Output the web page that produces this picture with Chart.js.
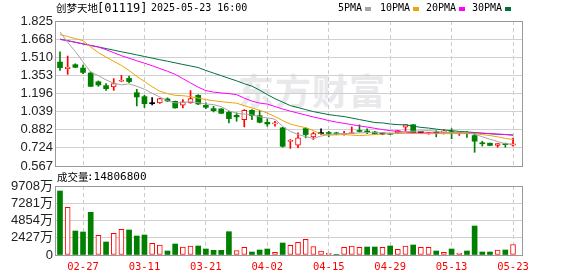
<!DOCTYPE html>
<html><head><meta charset="utf-8">
<script src="https://cdn.jsdelivr.net/npm/chart.js@4/dist/chart.umd.min.js"></script>
<style>
html,body{margin:0;padding:0;background:#fff;}
#wrap{position:relative;width:578px;height:276px;overflow:hidden;background:#fff;}
canvas{position:absolute;left:0;}
.t{position:absolute;white-space:pre;color:#000;line-height:12px;}
.cjk{font-family:'Noto Sans CJK SC',sans-serif;}
.mono{font-family:'DejaVu Sans Mono',monospace;}
.sq{position:absolute;width:6px;height:4px;}
#wm{left:238px;top:68px;font-family:'Noto Sans CJK SC',sans-serif;font-weight:700;font-size:36px;line-height:42px;color:#e9e9ec;letter-spacing:1px;}
</style></head><body>
<div id="wrap">
  <div id="wm" class="t">东方财富</div>
  <canvas id="pc" width="578" height="178" style="top:0"></canvas>
  <canvas id="vc" width="578" height="106" style="top:170px"></canvas>
  <div class="t cjk" style="left:56px;top:2px;font-size:10.5px;">创梦天地</div>
  <div class="t mono" style="left:97px;top:2px;font-size:12px;">[01119]</div>
  <div class="t mono" style="left:151px;top:2px;font-size:10px;">2025-05-23 16:00</div>
  <div class="t mono" style="left:338px;top:2px;font-size:10px;">5PMA</div>
  <div class="sq" style="left:365px;top:7px;background:#a5a5a5"></div>
  <div class="t mono" style="left:380px;top:2px;font-size:10px;">10PMA</div>
  <div class="sq" style="left:413px;top:7px;background:#f0a30a"></div>
  <div class="t mono" style="left:426px;top:2px;font-size:10px;">20PMA</div>
  <div class="sq" style="left:459px;top:7px;background:#ff00ff"></div>
  <div class="t mono" style="left:472px;top:2px;font-size:10px;">30PMA</div>
  <div class="sq" style="left:505px;top:7px;background:#00703c"></div>
  <div class="t cjk" style="left:57px;top:171px;font-size:10.5px;">成交量</div>
  <div class="t mono" id="vtxt" style="left:87px;top:171px;font-size:11px;"></div>
</div>
<script>
const dates = ['02-24','02-25','02-26','02-27','02-28','03-03','03-04','03-05','03-06','03-07',
'03-10','03-11','03-12','03-13','03-14','03-17','03-18','03-19','03-20','03-21',
'03-24','03-25','03-26','03-27','03-28','03-31','04-01','04-02','04-03','04-07',
'04-08','04-09','04-10','04-11','04-14','04-15','04-16','04-17','04-22','04-23',
'04-24','04-25','04-28','04-29','04-30','05-02','05-06','05-07','05-08','05-09',
'05-12','05-13','05-14','05-15','05-16','05-19','05-20','05-21','05-22','05-23'];
const tickLabels = ['02-27','03-11','03-21','04-02','04-15','04-29','05-13','05-23'];
const priceTicks = [0.567,0.724,0.882,1.039,1.196,1.353,1.510,1.668,1.825];
const volTicks = [0,2427,4854,7281,9708];

const opens = [1.469,1.411,1.446,1.417,1.374,1.298,1.264,1.253,1.302,1.327,
1.203,1.169,1.108,1.114,1.149,1.128,1.094,1.114,1.180,1.093,
1.065,1.062,1.033,1.007,0.970,1.050,1.004,0.946,0.932,0.898,
0.781,0.747,0.892,0.820,0.848,0.855,0.850,0.838,0.848,0.875,
0.870,0.862,0.845,0.848,0.854,0.903,0.925,0.856,0.848,0.860,
0.860,0.866,0.852,0.855,0.831,0.764,0.765,0.745,0.758,0.748];
const highs = [1.558,1.521,1.454,1.443,1.383,1.305,1.281,1.325,1.353,1.348,
1.232,1.180,1.160,1.155,1.158,1.131,1.143,1.221,1.186,1.114,
1.085,1.065,1.041,1.028,1.056,1.056,1.047,0.976,0.955,0.903,
0.797,0.854,0.898,0.860,0.889,0.868,0.860,0.868,0.906,0.924,
0.889,0.868,0.848,0.852,0.874,0.926,0.926,0.858,0.860,0.874,
0.882,0.891,0.860,0.866,0.854,0.782,0.765,0.762,0.766,0.810];
const lows = [1.396,1.362,1.420,1.368,1.255,1.258,1.223,1.223,1.300,1.290,
1.088,1.074,1.097,1.110,1.125,1.068,1.071,1.111,1.099,1.065,
1.036,1.022,0.941,0.955,0.906,0.970,0.941,0.912,0.912,0.730,
0.720,0.725,0.811,0.797,0.840,0.820,0.838,0.834,0.848,0.860,
0.848,0.840,0.840,0.838,0.850,0.868,0.854,0.850,0.842,0.820,
0.845,0.804,0.832,0.815,0.686,0.740,0.745,0.730,0.730,0.740];
const closes = [1.420,1.426,1.423,1.379,1.258,1.270,1.238,1.281,1.310,1.299,
1.166,1.108,1.108,1.151,1.131,1.071,1.123,1.151,1.105,1.076,
1.047,1.024,0.978,0.993,1.050,1.004,0.946,0.932,0.935,0.738,
0.786,0.811,0.840,0.848,0.848,0.849,0.846,0.848,0.858,0.867,
0.862,0.845,0.845,0.842,0.874,0.926,0.856,0.856,0.857,0.852,
0.870,0.856,0.858,0.848,0.782,0.760,0.745,0.762,0.752,0.760];
const volumes = [9004,6711,3377,3236,6007,2772,1829,3053,3616,3517,
2673,2814,1646,1407,563,1548,1126,1266,1266,844,
661,661,3278,605,1083,422,703,844,380,1688,
1365,1787,2209,1168,563,240,60,1083,1266,1083,
1126,1126,1083,1266,802,1266,1407,1083,1083,563,
380,844,281,563,4080,422,422,703,703,1480.68];
const ma5 = [1.730,1.640,1.560,1.470,1.381,1.351,1.314,1.285,1.271,1.280,
1.259,1.233,1.198,1.166,1.133,1.114,1.117,1.125,1.116,1.105,
1.100,1.081,1.046,1.024,1.018,1.010,0.994,0.985,0.973,0.911,
0.867,0.840,0.822,0.805,0.827,0.839,0.846,0.848,0.850,0.854,
0.856,0.856,0.855,0.852,0.854,0.866,0.869,0.871,0.874,0.869,
0.858,0.858,0.859,0.857,0.843,0.821,0.799,0.779,0.760,0.756];
const ma10 = [1.708,1.690,1.672,1.655,1.600,1.550,1.512,1.475,1.440,1.395,
1.345,1.300,1.255,1.215,1.195,1.180,1.177,1.169,1.156,1.143,
1.134,1.125,1.118,1.112,1.090,1.071,1.051,1.026,0.996,0.961,
0.931,0.913,0.900,0.874,0.844,0.835,0.837,0.840,0.835,0.831,
0.835,0.840,0.844,0.848,0.848,0.850,0.850,0.848,0.848,0.848,
0.848,0.848,0.848,0.848,0.847,0.840,0.831,0.820,0.807,0.797];
const ma20 = [1.665,1.654,1.640,1.626,1.612,1.599,1.576,1.550,1.524,1.502,
1.480,1.459,1.437,1.413,1.389,1.362,1.325,1.288,1.251,1.221,
1.208,1.201,1.195,1.186,1.156,1.130,1.113,1.104,1.083,1.061,
1.043,1.026,1.009,0.992,0.978,0.961,0.948,0.937,0.926,0.915,
0.905,0.894,0.883,0.874,0.867,0.861,0.854,0.854,0.854,0.854,
0.854,0.854,0.854,0.854,0.853,0.852,0.848,0.844,0.840,0.836];
const ma30 = [1.668,1.654,1.641,1.627,1.613,1.600,1.586,1.572,1.558,1.545,
1.531,1.517,1.503,1.489,1.476,1.462,1.448,1.435,1.421,1.396,
1.373,1.351,1.328,1.306,1.281,1.260,1.225,1.186,1.151,1.121,
1.091,1.074,1.056,1.039,1.026,1.013,1.004,0.996,0.983,0.970,
0.957,0.944,0.941,0.931,0.926,0.924,0.913,0.902,0.896,0.887,
0.879,0.874,0.867,0.863,0.857,0.851,0.847,0.842,0.840,0.835];

const RED='#ff0000', GREEN='#008000', BLACK='#000000';
const idx = dates.map((d,i)=>i);
const tickIdx = tickLabels.map(l=>dates.indexOf(l));
document.getElementById('vtxt').textContent = ':' + Math.round(volumes[volumes.length-1]*10000);

function candleColor(i){ return closes[i]>opens[i]?RED:(closes[i]<opens[i]?GREEN:BLACK); }
function volUp(i){ return i===0 ? closes[i]>=opens[i] : closes[i]>=closes[i-1]; }

const framePlugin = {
  id:'frame',
  beforeDatasetsDraw(chart){
    const {ctx, chartArea:a} = chart;
    ctx.save();
    ctx.strokeStyle='#999'; ctx.lineWidth=1;
    const l=Math.round(a.left)+0.5, r=Math.round(a.right)+0.5, t=Math.round(a.top)+0.5, b=Math.round(a.bottom)+0.5;
    ctx.strokeRect(l,t,r-l,b-t);
    ctx.restore();
  }
};

function xScale(show){
  return {
    type:'linear', min:-0.65, max:60.17, offset:false,
    afterBuildTicks: s=>{ s.ticks = tickIdx.map(v=>({value:v})); },
    afterFit: s=>{ s.height = show ? 21 : 0; },
    grid:{color:'#cccccc', lineWidth:1, drawTicks:false, offset:false},
    border:{display:false, dash:[4,3]},
    ticks:{display:show, autoSkip:false, maxRotation:0, padding:6, color:RED,
      font:{family:"'DejaVu Sans Mono', monospace", size:10.5},
      callback: v=>dates[v] }
  };
}
const yFont = {family:"'Liberation Sans', 'Noto Sans CJK SC', sans-serif", size:13};
const common = {
  responsive:false, animation:false, devicePixelRatio:1, events:[],
  plugins:{legend:{display:false}, tooltip:{enabled:false}}
};
const lineDs = (arr,color)=>({type:'line', data: idx.map(i=>({x:i,y:arr[i]})), borderColor:color,
  borderWidth:1, pointRadius:0, tension:0, fill:false, order:0});

new Chart(document.getElementById('pc'), {
  type:'bar',
  data:{datasets:[
    lineDs(ma5,'#a5a5a5'), lineDs(ma10,'#f0a30a'), lineDs(ma20,'#ff00ff'), lineDs(ma30,'#00703c'),
    {type:'bar', data: idx.map(i=>({x:i,y:[opens[i],closes[i]]})), barThickness:5, grouped:false,
      minBarLength:1, borderSkipped:false,
      backgroundColor: c=>closes[c.dataIndex]>opens[c.dataIndex]?'#ffffff':candleColor(c.dataIndex),
      borderColor: c=>candleColor(c.dataIndex),
      borderWidth: c=>closes[c.dataIndex]>opens[c.dataIndex]?1:0, order:2},
    {type:'bar', data: idx.map(i=>({x:i,y:[lows[i],highs[i]]})), barThickness:1, grouped:false,
      borderWidth:0, backgroundColor: c=>candleColor(c.dataIndex), order:3}
  ]},
  options:Object.assign({}, common, {
    layout:{padding:{top:21,right:56,bottom:12,left:0}},
    scales:{
      x:xScale(false),
      y:{type:'linear', min:priceTicks[0], max:priceTicks[priceTicks.length-1],
        afterBuildTicks: s=>{ s.ticks = priceTicks.map(v=>({value:v})); },
        afterFit: s=>{ s.width = 55; },
        grid:{color:'#d0d0d0', drawTicks:false}, border:{display:false},
        ticks:{autoSkip:false, padding:2, color:'#222', font:yFont, callback:v=>v.toFixed(3)}}
    }
  }),
  plugins:[framePlugin]
});

new Chart(document.getElementById('vc'), {
  type:'bar',
  data:{datasets:[
    {data: idx.map(i=>({x:i,y:volumes[i]})), barThickness:5, grouped:false, borderSkipped:false,
      backgroundColor: c=>volUp(c.dataIndex)?'#ffffff':GREEN,
      borderColor: c=>volUp(c.dataIndex)?RED:GREEN,
      borderWidth: c=>volUp(c.dataIndex)?1:0}
  ]},
  options:Object.assign({}, common, {
    layout:{padding:{top:16,right:56,bottom:0,left:0}},
    scales:{
      x:xScale(true),
      y:{type:'linear', min:volTicks[0], max:volTicks[volTicks.length-1],
        afterBuildTicks: s=>{ s.ticks = volTicks.map(v=>({value:v})); },
        afterFit: s=>{ s.width = 55; },
        grid:{color:'#d0d0d0', drawTicks:false}, border:{display:false},
        ticks:{autoSkip:false, padding:2, color:'#222', font:yFont, callback:v=>v===0?'0':v+'万'}}
    }
  }),
  plugins:[framePlugin]
});
</script>
</body></html>
